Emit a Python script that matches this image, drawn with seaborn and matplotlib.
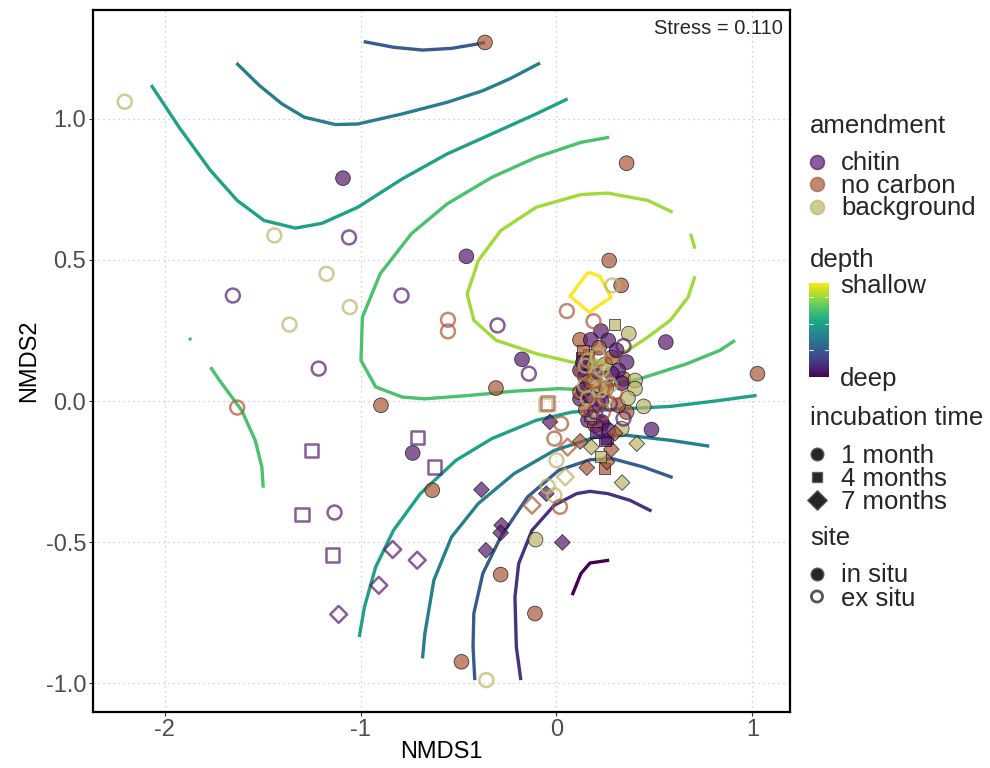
import matplotlib
matplotlib.use("Agg")
import matplotlib as mpl
import matplotlib.pyplot as plt
from matplotlib.colors import Normalize
import numpy as np
import pandas as pd
import seaborn as sns

sns.set_theme(style="white")
plt.rcParams["font.family"] = ["Liberation Sans", "DejaVu Sans"]
plt.rcParams["axes.unicode_minus"] = False

# ---- NMDS sample scores -------------------------------------------------
nmds1 = [
    -0.365, -2.204, -1.090, -1.440, -1.059, -0.460, -1.174, -1.652, -0.791, -1.055,
    -1.363, -0.554, -0.554, -0.301, -1.214, -0.176, -0.141, -0.309, 0.269, 0.358,
    0.285, 0.330, 0.053, 0.189, 0.296, 0.369, 0.558, 1.026, 0.227, 0.342,
    -1.630, -0.896, -1.249, -0.711, -0.734, -0.624, -0.634, -1.299, -1.133, -1.144,
    -0.383, -0.280, -0.285, -0.360, -0.836, -0.711, -0.907, -1.112, -0.285, -0.107,
    0.030, -0.110, -0.485, -0.358, -0.125, -0.045, -0.011, 0.018, -0.052, 0.045,
    0.000, 0.057, -0.011, 0.023, -0.034, -0.057, -0.045, 0.410, 0.335, 0.155,
    0.280, 0.246, 0.258, 0.178, 0.224, 0.485, 0.445, 0.121, 0.258, 0.342,
    0.120, 0.175, 0.264, 0.217, 0.129, 0.162, 0.358, 0.341, 0.401, 0.315,
    0.239, 0.333, 0.273, 0.197, 0.248, 0.120, 0.180, 0.205, 0.282, 0.248,
    0.334, 0.145, 0.120, 0.231, 0.264, 0.358, 0.315, 0.401, 0.161, 0.197,
    0.222, 0.145, 0.181, 0.222, 0.248, 0.135, 0.273, 0.171, 0.120, 0.171,
    0.212, 0.237, 0.161, 0.197, 0.222, 0.202, 0.135, 0.135, 0.248, 0.283,
    0.212, 0.299, 0.365, 0.299, 0.171, 0.307, 0.150, 0.190, 0.230, 0.160,
    0.205, 0.140, 0.195, 0.230, 0.185, 0.150, 0.255, 0.210,
]
nmds2 = [
    1.271, 1.061, 0.790, 0.587, 0.580, 0.513, 0.451, 0.374, 0.374, 0.333,
    0.271, 0.288, 0.247, 0.268, 0.115, 0.148, 0.097, 0.046, 0.498, 0.843,
    0.410, 0.410, 0.319, 0.283, 0.272, 0.239, 0.209, 0.097, 0.248, 0.195,
    -0.023, -0.015, -0.175, -0.130, -0.184, -0.234, -0.316, -0.402, -0.395, -0.546,
    -0.314, -0.440, -0.467, -0.529, -0.526, -0.564, -0.653, -0.756, -0.615, -0.491,
    -0.501, -0.753, -0.924, -0.989, -0.369, -0.302, -0.334, -0.375, -0.328, -0.269,
    -0.210, -0.163, -0.133, -0.080, -0.074, -0.012, -0.007, -0.151, -0.289, -0.236,
    -0.171, -0.239, -0.216, -0.163, -0.196, -0.101, -0.019, -0.143, -0.133, -0.062,
    0.217, 0.217, 0.215, 0.189, 0.154, 0.165, 0.138, 0.079, 0.073, 0.109,
    -0.080, -0.098, -0.009, -0.039, -0.139, 0.109, 0.120, 0.097, 0.097, 0.073,
    0.063, 0.085, 0.008, -0.074, -0.104, -0.039, -0.015, 0.044, 0.144, 0.123,
    0.151, 0.056, 0.031, 0.038, 0.010, 0.102, 0.056, 0.073, 0.031, 0.020,
    0.056, -0.040, -0.068, -0.086, -0.097, -0.111, 0.179, 0.137, 0.130, 0.155,
    -0.012, 0.031, 0.010, -0.114, -0.051, 0.180, 0.125, 0.070, 0.110, 0.010,
    -0.015, 0.040, 0.100, 0.000, -0.060, -0.030, 0.045, 0.160,
]
# C = chitin, N = no carbon, B = background
amendment_code = list(
    "NBCBCCBCCB" "BNNCCCCNNN" "BNNNBBCNCC"
    "NNCCCCNCCC" "CCCCCCCCNB" "CNNBNBBNCB"
    "BNNNCBNBBN" "NNNBBCBNCC" "NCCNCNCNBC"
    "CBCCCCNBCN" "CCCCCNNBBB" "NBNBBNBNNC"
    "BNCNCCNCBN" "CNBNBCBNBB" "NCCCCNNB"
)
# incubation time in months
incubation_code = [
    1, 1, 1, 1, 1, 1, 1, 1, 1, 1,
    1, 1, 1, 1, 1, 1, 1, 1, 1, 1,
    1, 1, 1, 1, 4, 1, 1, 1, 1, 1,
    1, 1, 4, 4, 1, 4, 1, 4, 1, 4,
    7, 7, 7, 7, 7, 7, 7, 7, 1, 1,
    7, 1, 1, 1, 7, 1, 1, 1, 7, 7,
    1, 7, 1, 1, 7, 4, 4, 7, 7, 7,
    7, 4, 7, 7, 4, 1, 1, 7, 4, 1,
    1, 1, 1, 1, 4, 4, 1, 1, 1, 1,
    7, 1, 1, 1, 4, 1, 1, 1, 1, 1,
    1, 1, 1, 1, 1, 1, 1, 1, 1, 1,
    1, 1, 1, 1, 1, 1, 1, 1, 1, 1,
    1, 1, 1, 1, 1, 4, 4, 1, 1, 1,
    1, 1, 1, 7, 4, 1, 1, 1, 1, 1,
    1, 1, 1, 1, 1, 1, 1, 1,
]
# I = in situ, E = ex situ
site_code = list(
    "IEIEEIEEEE" "EEEEEIEIII" "EIEEIIIIIE"
    "EIEEIEIEEE" "IIIIEEEEII" "IIIEEEEEIE"
    "EEEEIEEIII" "IIIIIIIIIE" "IIIIIIIIII"
    "IIEEIIIEIE" "IIIIIIIIEE" "EEEEEEEIII"
    "IEIIEIIIII" "IEIIIIEEEE" "EIIIEIIE"
)

amendment_levels = ["chitin", "no carbon", "background"]
incubation_levels = ["1 month", "4 months", "7 months"]
site_levels = ["in situ", "ex situ"]
amendment_colors = ["#561a6e", "#a85838", "#bab56a"]

# ---- fitted depth surface (contour lines, level 0 = deep ... 7 = shallow)
contour_level = [0, 1, 2, 2, 3, 3, 4, 4, 5, 5, 5, 6, 6, 7]
contour_x = [
    [0.080, 0.125, 0.171, 0.269],
    [-0.182, -0.205, -0.212, -0.193, -0.125, -0.011, 0.103, 0.171, 0.262, 0.376, 0.485],
    [-0.984, -0.832, -0.684, -0.536, -0.399, -0.365],
    [-0.417, -0.426, -0.422, -0.376, -0.285, -0.148, 0.012, 0.171, 0.285, 0.445, 0.593],
    [-1.634, -1.516, -1.401, -1.287, -1.128, -1.014, -0.786, -0.558, -0.376, -0.239, -0.084],
    [-0.684, -0.672, -0.626, -0.536, -0.399, -0.216, -0.011, 0.194, 0.353, 0.581, 0.780],
    [-2.069, -1.926, -1.766, -1.630, -1.493, -1.333, -1.197, -1.014, -0.786, -0.558,
     -0.330, -0.103, 0.057],
    [-1.007, -0.980, -0.923, -0.832, -0.695, -0.513, -0.330, -0.103, 0.080, 0.353,
     0.581, 0.809, 1.021],
    [0.269, 0.125, -0.103, -0.330, -0.558, -0.741, -0.900, -0.991, -0.998, -0.923,
     -0.786, -0.672, -0.444, -0.216, 0.011, 0.120, 0.273, 0.426, 0.665, 0.835, 0.911],
    [-1.766, -1.720, -1.607, -1.538, -1.504, -1.497],
    [-1.874, -1.866],
    [0.593, 0.467, 0.262, 0.125, -0.103, -0.285, -0.399, -0.456, -0.422, -0.307,
     -0.103, 0.080, 0.171, 0.273, 0.365, 0.467, 0.581, 0.672, 0.707],
    [0.684, 0.707],
    [0.162, 0.222, 0.278, 0.167, 0.069, 0.162],
]
contour_y = [
    [-0.688, -0.611, -0.574, -0.564],
    [-0.989, -0.871, -0.694, -0.576, -0.458, -0.369, -0.328, -0.320, -0.328, -0.352, -0.390],
    [1.274, 1.254, 1.244, 1.250, 1.266, 1.271],
    [-0.989, -0.871, -0.753, -0.611, -0.482, -0.340, -0.245, -0.208, -0.204, -0.234, -0.271],
    [1.198, 1.118, 1.053, 1.006, 0.980, 0.982, 1.018, 1.059, 1.100, 1.142, 1.198],
    [-0.912, -0.824, -0.635, -0.482, -0.363, -0.257, -0.175, -0.129, -0.121, -0.139, -0.160],
    [1.120, 0.970, 0.817, 0.711, 0.640, 0.613, 0.630, 0.687, 0.788, 0.876,
     0.947, 1.018, 1.071],
    [-0.836, -0.729, -0.588, -0.458, -0.328, -0.210, -0.133, -0.068, -0.039, -0.027,
     -0.019, 0.000, 0.020],
    [0.935, 0.917, 0.864, 0.793, 0.699, 0.593, 0.451, 0.297, 0.144, 0.050,
     0.014, 0.008, 0.020, 0.035, 0.044, 0.041, 0.056, 0.079, 0.132, 0.180, 0.215],
    [0.120, 0.073, -0.033, -0.139, -0.234, -0.307],
    [0.224, 0.215],
    [0.669, 0.711, 0.737, 0.732, 0.687, 0.604, 0.498, 0.380, 0.286, 0.215,
     0.168, 0.138, 0.130, 0.151, 0.180, 0.227, 0.286, 0.368, 0.442],
    [0.593, 0.540],
    [0.457, 0.442, 0.368, 0.315, 0.372, 0.457],
]
stress = 0.110

# ---- tidy tables ----------------------------------------------------------
amend_map = dict(zip("CNB", amendment_levels))
site_map = dict(zip("IE", site_levels))
time_map = dict(zip([1, 4, 7], incubation_levels))
scores = pd.DataFrame({
    "NMDS1": nmds1,
    "NMDS2": nmds2,
    "amendment": [amend_map[a] for a in amendment_code],
    "incubation": [time_map[t] for t in incubation_code],
    "site": [site_map[s] for s in site_code],
})
lines = pd.concat(
    [pd.DataFrame({"x": xs, "y": ys, "level": lev, "seg": i})
     for i, (lev, xs, ys) in enumerate(zip(contour_level, contour_x, contour_y))],
    ignore_index=True,
)

palette = dict(zip(amendment_levels, amendment_colors))
shape_map = dict(zip(incubation_levels, ["o", "s", "D"]))

# ---- figure ---------------------------------------------------------------
fig = plt.figure(figsize=(9.9, 7.68), dpi=100)
ax = fig.add_axes([93 / 990, 56 / 768, 697 / 990, 702 / 768])

sns.lineplot(data=lines, x="x", y="y", hue="level", units="seg", estimator=None,
             sort=False, palette="viridis", hue_norm=(0, 7), linewidth=2.4,
             solid_joinstyle="round", solid_capstyle="butt",
             legend=False, ax=ax, zorder=2)

in_situ = scores[scores["site"] == "in situ"]
ex_situ = scores[scores["site"] == "ex situ"]

sns.scatterplot(data=in_situ, x="NMDS1", y="NMDS2", hue="amendment",
                hue_order=amendment_levels, palette=palette,
                style="incubation", style_order=incubation_levels, markers=shape_map,
                size="incubation", size_order=incubation_levels,
                sizes=dict(zip(incubation_levels, [112, 66, 64])),
                alpha=0.7, edgecolor="black", linewidth=0.6, legend=False,
                ax=ax, zorder=3)

sns.scatterplot(data=ex_situ, x="NMDS1", y="NMDS2", hue="amendment",
                hue_order=amendment_levels, palette=palette,
                style="incubation", style_order=incubation_levels, markers=shape_map,
                size="incubation", size_order=incubation_levels,
                sizes=dict(zip(incubation_levels, [100, 92, 74])),
                alpha=0.7, linewidth=1.8, legend=False, ax=ax, zorder=3)
open_pts = ax.collections[-1]
open_pts.set_edgecolors(open_pts.get_facecolors())
open_pts.set_facecolors("none")

ax.set_xlim(-2.366, 1.192)
ax.set_ylim(-1.102, 1.386)
ax.set_xticks([-2, -1, 0, 1])
ax.set_xticklabels(["-2", "-1", "0", "1"])
ax.set_yticks([-1.0, -0.5, 0.0, 0.5, 1.0])
ax.set_yticklabels(["-1.0", "-0.5", "0.0", "0.5", "1.0"])
ax.grid(True, linestyle=(0, (1, 3)), color="#c4c4c4", linewidth=0.9)
ax.set_axisbelow(True)
for sp in ax.spines.values():
    sp.set_color("black")
    sp.set_linewidth(1.6)
ax.tick_params(axis="both", length=3, width=0.8, color="#333333",
               labelsize=17, labelcolor="#4d4d4d", pad=2, bottom=True, left=True)
ax.set_xlabel("NMDS1", fontsize=17, color="black")
ax.set_ylabel("NMDS2", fontsize=17, color="black")
ax.xaxis.set_label_coords(0.5, -0.042)
ax.yaxis.set_label_coords(-0.076, 0.5)
ax.text(0.990, 0.973, f"Stress = {stress:.3f}", transform=ax.transAxes,
        ha="right", va="center", fontsize=14.5)

# ---- legends --------------------------------------------------------------
lax = fig.add_axes([0, 0, 1, 1], zorder=5)
lax.set_xlim(0, 990)
lax.set_ylim(768, 0)
lax.axis("off")
lfs = 18.5
key_x, txt_x, ttl_x = 817, 841, 810

lax.text(ttl_x, 133, "amendment", fontsize=lfs, va="baseline")
for i, (lab, col) in enumerate(zip(amendment_levels, amendment_colors)):
    yy = 161.5 + 22.5 * i
    lax.scatter([key_x], [yy], s=100, marker="o", color=col, alpha=0.7,
                edgecolor=col, linewidth=1.2)
    lax.text(txt_x, yy + 9, lab, fontsize=lfs, va="baseline")

lax.text(ttl_x, 266.5, "depth", fontsize=lfs, va="baseline")
lax.text(txt_x - 1, 293, "shallow", fontsize=lfs, va="baseline")
lax.text(txt_x - 1, 386, "deep", fontsize=lfs, va="baseline")

lax.text(ttl_x, 425, "incubation time", fontsize=lfs, va="baseline")
for i, (lab, mk, sz) in enumerate(zip(incubation_levels, ["o", "s", "D"], [84, 60, 100])):
    yy = 454 + 23 * i
    lax.scatter([key_x], [yy], s=sz, marker=mk, color="black", alpha=0.85,
                edgecolor="#555555", linewidth=1.0)
    lax.text(txt_x, yy + 9, lab, fontsize=lfs, va="baseline")

lax.text(ttl_x, 545, "site", fontsize=lfs, va="baseline")
lax.scatter([key_x], [573.5], s=84, marker="o", color="black", alpha=0.85,
            edgecolor="#555555", linewidth=1.0)
lax.text(txt_x, 582.5, site_levels[0], fontsize=lfs, va="baseline")
lax.scatter([key_x], [596.5], s=64, marker="o", facecolor="none",
            edgecolor="#555555", linewidth=2.0)
lax.text(txt_x, 605.5, site_levels[1], fontsize=lfs, va="baseline")

cax = fig.add_axes([809 / 990, (768 - 377.3) / 768, 20 / 990, 94.6 / 768])
cb = mpl.colorbar.ColorbarBase(cax, cmap="viridis", norm=Normalize(0, 1),
                               orientation="vertical")
cb.outline.set_visible(False)
cax.set_xticks([])
cax.set_yticks([])
for f in (0.284, 0.568, 0.853):
    cax.plot([0, 0.2], [f, f], color="white", lw=0.8, alpha=0.8, transform=cax.transAxes)
    cax.plot([0.8, 1], [f, f], color="white", lw=0.8, alpha=0.8, transform=cax.transAxes)

fig.savefig("out.png", dpi=100)
